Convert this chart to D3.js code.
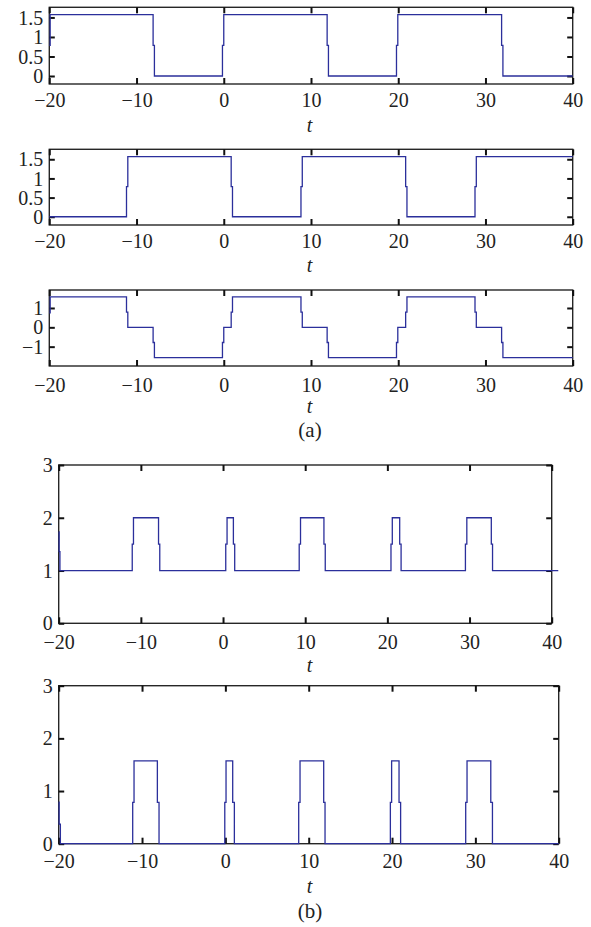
<!DOCTYPE html>
<html><head><meta charset="utf-8">
<script src="https://cdn.jsdelivr.net/npm/d3@7"></script>
<style>
html,body{margin:0;padding:0;background:#fff;}
svg{display:block;}
text{font-family:"Liberation Serif","Times New Roman",serif;fill:#222;}
</style></head>
<body>
<script>
// ---- data ----
const xTicks = [-20, -10, 0, 10, 20, 30, 40];
const yTicksA = [0, 0.5, 1, 1.5];
const yTicksA3 = [-1, 0, 1];
const yTicksB = [0, 1, 2, 3];

const t1 = [-20, -19.9, -8.1, -7.95, -0.15, 0, 11.85, 12.0, 19.8, 19.95, 31.85, 32.0, 40];
const y1 = [0.785, 1.571, 0.785, 0, 0.785, 1.571, 0.785, 0, 0.785, 1.571, 0.785, 0, 0];

const t2 = [-20, -11.15, -11.0, 0.85, 1.0, 8.85, 9.0, 20.85, 21.0, 28.8, 28.95, 40];
const y2 = [0, 0.785, 1.571, 0.785, 0, 0.785, 1.571, 0.785, 0, 0.785, 1.571, 1.571];

const t3 = [-20, -19.9, -11.15, -11.0, -8.1, -7.95, -0.15, 0, 0.85, 1.0, 8.85, 9.0, 11.85, 12.0, 19.8, 19.95, 20.85, 21.0, 28.8, 28.95, 31.85, 32.0, 40];
const y3 = [0.75, 1.571, 0.785, 0, -0.785, -1.571, -0.785, 0, 0.785, 1.571, 0.785, 0, -0.785, -1.571, -0.785, 0, 0.785, 1.571, 0.785, 0, -0.785, -1.571, -1.571];

const t4 = [-20, -19.95, -19.85, -11.05, -10.9, -7.85, -7.7, 0.33, 0.49, 1.26, 1.42, 9.27, 9.43, 12.28, 12.44, 20.44, 20.6, 21.5, 21.67, 29.5, 29.67, 32.65, 32.8, 40.8];
const y4 = [1.73, 1.36, 1, 1.5, 2, 1.5, 1, 1.5, 2, 1.5, 1, 1.5, 2, 1.5, 1, 1.5, 2, 1.5, 1, 1.5, 2, 1.5, 1, 1];

const t5 = [-20, -19.95, -19.8, -11.12, -10.96, -8.16, -7.96, -0.07, 0.08, 0.88, 1.08, 8.8, 8.96, 11.8, 11.96, 19.8, 19.95, 20.84, 21.03, 28.84, 29.0, 31.85, 32.05, 40];
const y5 = [0.79, 0.37, 0, 0.785, 1.571, 0.785, 0, 0.785, 1.571, 0.785, 0, 0.785, 1.571, 0.785, 0, 0.785, 1.571, 0.785, 0, 0.785, 1.571, 0.785, 0, 0];

const panels = [
  {t: t1, y: y1, yTicks: yTicksA, yDom: [-0.205, 1.76], x0: 49.3, x1: 572.7, top: 7.3, bottom: 84, xLab: 23, tBase: 131.5},
  {t: t2, y: y2, yTicks: yTicksA, yDom: [-0.215, 1.76], x0: 49.3, x1: 572.7, top: 149.3, bottom: 225, xLab: 23, tBase: 272},
  {t: t3, y: y3, yTicks: yTicksA3, yDom: [-2.0, 1.93], x0: 49.3, x1: 572.7, top: 290, bottom: 366, xLab: 25.5, tBase: 413, sub: "(a)", subBase: 437},
  {t: t4, y: y4, yTicks: yTicksB, yDom: [0, 3], x0: 58.7, x1: 551.7, top: 465, bottom: 623.3, xLab: 26, tBase: 672},
  {t: t5, y: y5, yTicks: yTicksB, yDom: [0, 3], x0: 58.7, x1: 558.7, top: 685.7, bottom: 843.7, xLab: 24.6, tBase: 893, sub: "(b)", subBase: 918}
];

const W = 591, H = 927;
const svg = d3.select("body").append("svg").attr("width", W).attr("height", H);
const fmt = d => d3.format("~g")(d);
const FS = 20;

panels.forEach(p => {
  const x = d3.scaleLinear().domain([-20, 40]).range([p.x0, p.x1]);
  const y = d3.scaleLinear().domain(p.yDom).range([p.bottom, p.top]);
  const g = svg.append("g");

  // box
  g.append("rect").attr("x", p.x0).attr("y", p.top)
    .attr("width", p.x1 - p.x0).attr("height", p.bottom - p.top)
    .attr("fill", "none").attr("stroke", "#262626").attr("stroke-width", 1.4);

  // axes (inside ticks, mirrored)
  const styleAxis = sel => {
    sel.select(".domain").remove();
    sel.selectAll(".tick line").attr("stroke", "#111").attr("stroke-width", 2);
    sel.selectAll(".tick text").attr("font-size", FS).attr("fill", "#222")
      .attr("font-family", '"Liberation Serif","Times New Roman",serif');
  };
  const xb = g.append("g").attr("transform", `translate(0,${p.bottom})`)
    .call(d3.axisBottom(x).tickValues(xTicks).tickFormat(fmt).tickSize(-6).tickPadding(p.xLab - 14.2));
  styleAxis(xb);
  const xt = g.append("g").attr("transform", `translate(0,${p.top})`)
    .call(d3.axisTop(x).tickValues(xTicks).tickFormat("").tickSize(-6));
  styleAxis(xt);
  const yl = g.append("g").attr("transform", `translate(${p.x0},0)`)
    .call(d3.axisLeft(y).tickValues(p.yTicks).tickFormat(fmt).tickSize(-5.5).tickPadding(6));
  styleAxis(yl);
  yl.selectAll(".tick text").attr("dy", "0.33em");
  const yr = g.append("g").attr("transform", `translate(${p.x1},0)`)
    .call(d3.axisRight(y).tickValues(p.yTicks).tickFormat("").tickSize(-5.5));
  styleAxis(yr);

  // signal
  const pts = p.t.map((tv, i) => [tv, p.y[i]]);
  g.append("path").datum(pts)
    .attr("d", d3.line().x(d => x(d[0])).y(d => y(d[1])).curve(d3.curveStepAfter))
    .attr("fill", "none").attr("stroke", "#2b2f9b").attr("stroke-width", 1.3);

  // labels
  g.append("text").attr("x", 309.5).attr("y", p.tBase).attr("text-anchor", "middle")
    .attr("font-size", FS).attr("font-style", "italic").text("t");
  if (p.sub) {
    g.append("text").attr("x", 310).attr("y", p.subBase).attr("text-anchor", "middle")
      .attr("font-size", 21).text(p.sub);
  }
});
</script>
</body></html>
